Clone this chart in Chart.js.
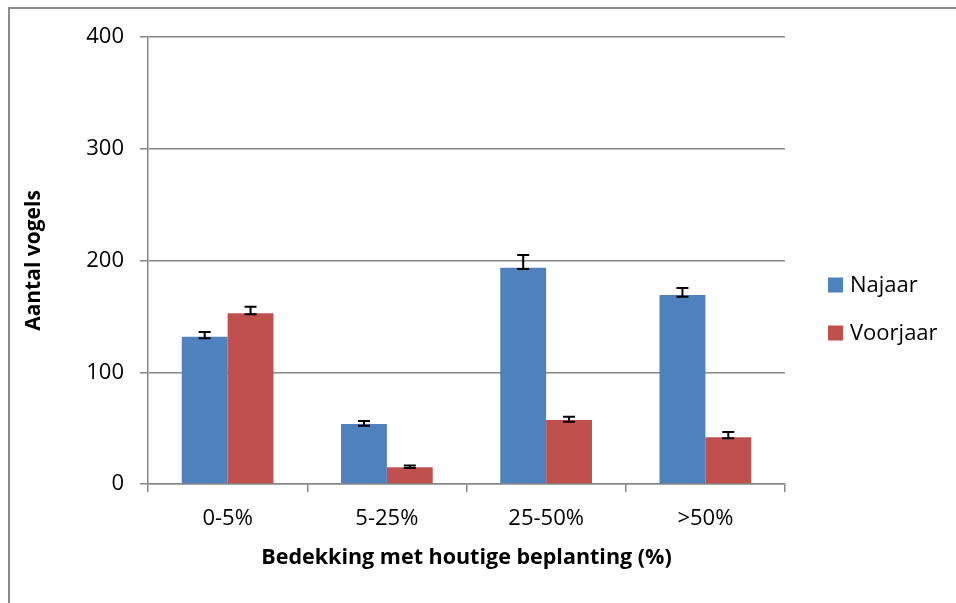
<!DOCTYPE html>
<html>
<head>
<meta charset="utf-8">
<script src="https://cdn.jsdelivr.net/npm/chart.js@4/dist/chart.umd.min.js"></script>
<style>
  html, body { margin: 0; padding: 0; background: #fff; overflow: hidden; }
  #frame { position: absolute; left: 8px; top: 7px; width: 1000px; height: 700px;
           border-left: 2px solid #8c8c8c; border-top: 2px solid #8c8c8c; }
  #wrap { position: absolute; left: 0; top: 0; width: 956px; height: 603px; }
</style>
</head>
<body>
<div id="frame"></div>
<div id="wrap"><canvas id="chart"></canvas></div>
<script>
// categories and series
const categories = ['0-5%', '5-25%', '25-50%', '>50%'];
const seriesNames = ['Najaar', 'Voorjaar'];
const najaar = [131.8, 53.7, 193.6, 169.1];
const voorjaar = [152.7, 14.9, 57.3, 41.8];
// error bar ends (low / high) per bar
const najaarLow = [130.4, 52.2, 192.4, 167.6];
const najaarHigh = [136.0, 56.4, 204.9, 175.4];
const voorjaarLow = [151.9, 14.3, 55.8, 40.9];
const voorjaarHigh = [158.7, 16.5, 60.2, 46.5];
const yTicks = [0, 100, 200, 300, 400];

const colors = ['#4f81bd', '#c0504d'];
const fontFam = "'Open Sans', 'Noto Sans', sans-serif";

// draws the black error bars on top of each bar
const errorBars = {
    id: 'errorBars',
    afterDatasetsDraw(chart) {
        const ctx = chart.ctx;
        const yScale = chart.scales.y;
        ctx.save();
        ctx.strokeStyle = '#000';
        ctx.lineWidth = 2;
        chart.data.datasets.forEach((ds, di) => {
            const meta = chart.getDatasetMeta(di);
            meta.data.forEach((bar, i) => {
                const yHi = yScale.getPixelForValue(ds.errHigh[i]);
                const yLo = yScale.getPixelForValue(ds.errLow[i]);
                const half = 6;
                ctx.beginPath();
                ctx.moveTo(bar.x, yHi); ctx.lineTo(bar.x, yLo);
                ctx.moveTo(bar.x - half, yHi); ctx.lineTo(bar.x + half, yHi);
                ctx.moveTo(bar.x - half, yLo); ctx.lineTo(bar.x + half, yLo);
                ctx.stroke();
            });
        });
        ctx.restore();
    }
};

// simple legend to the right of the plot, like the Excel one
const sideLegend = {
    id: 'sideLegend',
    afterDraw(chart) {
        const ctx = chart.ctx;
        const area = chart.chartArea;
        const x = area.right + 43;
        const gap = 48;
        const midY = (area.top + area.bottom) / 2 + 48;
        ctx.save();
        ctx.font = '22px ' + fontFam;
        ctx.textBaseline = 'middle';
        ctx.fillStyle = '#000';
        chart.data.datasets.forEach((ds, i) => {
            const cy = midY + (i - 0.5) * gap;
            ctx.fillStyle = ds.backgroundColor;
            ctx.fillRect(x, cy - 7, 15, 15);
            ctx.fillStyle = '#000';
            ctx.fillText(ds.label, x + 22, cy + 1);
        });
        ctx.restore();
    }
};

new Chart(document.getElementById('chart'), {
    type: 'bar',
    data: {
        labels: categories,
        datasets: [
            { label: seriesNames[0], data: najaar, backgroundColor: colors[0],
              errLow: najaarLow, errHigh: najaarHigh },
            { label: seriesNames[1], data: voorjaar, backgroundColor: colors[1],
              errLow: voorjaarLow, errHigh: voorjaarHigh }
        ]
    },
    options: {
        responsive: true,
        maintainAspectRatio: false,
        animation: false,
        layout: { padding: { left: 10, right: 171, top: 37, bottom: 0 } },
        datasets: { bar: { categoryPercentage: 0.576, barPercentage: 1.0 } },
        plugins: { legend: { display: false }, tooltip: { enabled: false } },
        scales: {
            x: {
                grid: { drawOnChartArea: false, drawTicks: true, tickLength: 8,
                        color: '#878787', lineWidth: 1.5 },
                border: { color: '#878787', width: 1.5 },
                ticks: { color: '#000', padding: 14, font: { family: fontFam, size: 22 } },
                title: { display: true, text: 'Bedekking met houtige beplanting (%)', color: '#000',
                         font: { family: fontFam, size: 21.5, weight: 'bold' },
                         padding: { top: 0, bottom: 32 } },
                afterFit(scale) { scale.height = 119; }
            },
            y: {
                min: 0, max: 400,
                afterBuildTicks(scale) { scale.ticks = yTicks.map(v => ({ value: v })); },
                grid: { color: '#878787', lineWidth: 1.5, tickLength: 8 },
                border: { color: '#878787', width: 1.5 },
                ticks: { color: '#000', padding: 16, font: { family: fontFam, size: 22 } },
                title: { display: true, text: 'Aantal vogels', color: '#000',
                         font: { family: fontFam, size: 21, weight: 'bold' },
                         padding: { top: 11, bottom: 0 } },
                afterFit(scale) { scale.width = 138; }
            }
        }
    },
    plugins: [errorBars, sideLegend]
});
</script>
</body>
</html>
